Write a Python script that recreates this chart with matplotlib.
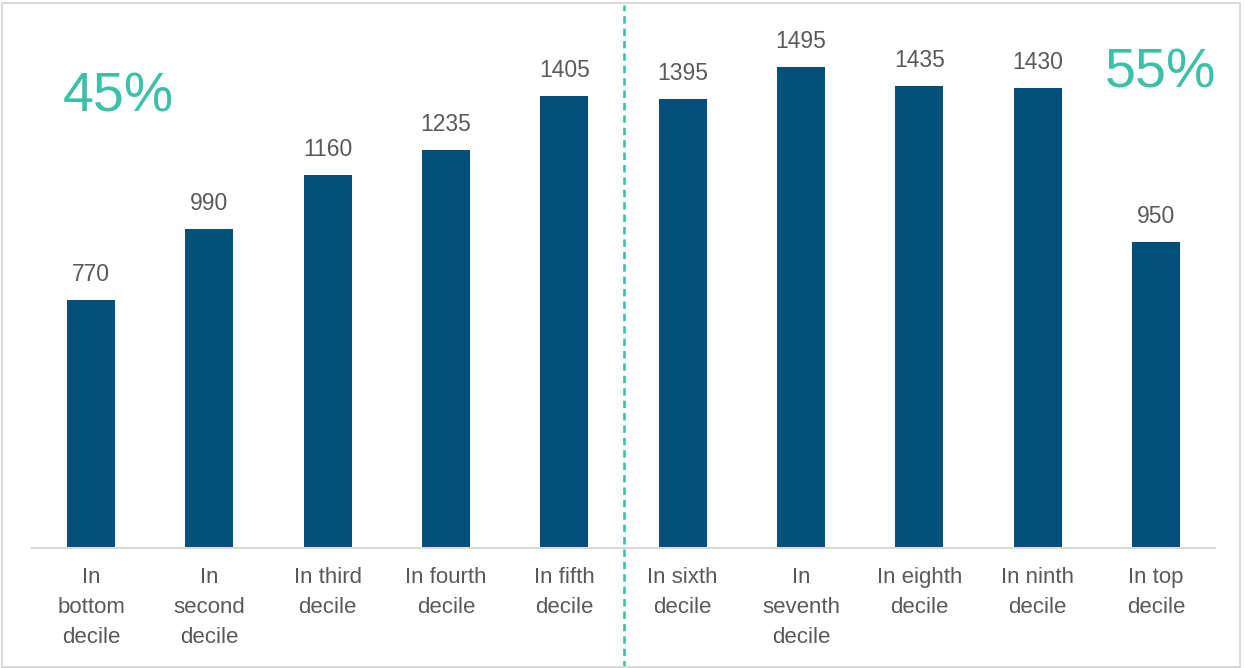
import matplotlib.pyplot as plt
from matplotlib.patches import Rectangle

# deciles and values
labels = ["In\nbottom\ndecile", "In\nsecond\ndecile", "In third\ndecile",
          "In fourth\ndecile", "In fifth\ndecile", "In sixth\ndecile",
          "In\nseventh\ndecile", "In eighth\ndecile", "In ninth\ndecile",
          "In top\ndecile"]
values = [770, 990, 1160, 1235, 1405, 1395, 1495, 1435, 1430, 950]
left_share = "45%"
right_share = "55%"

bar_col = "#00507A"
teal = "#3CC1A8"
grey = "#595959"

plt.rcParams['font.family'] = ['Liberation Sans', 'DejaVu Sans']

fig = plt.figure(figsize=(12.44, 6.68), dpi=100)
ax = fig.add_axes([32/1244, 120/668, 1183/1244, 538/668])

x = range(len(values))
bars = ax.bar(x, values, width=0.405, color=bar_col, zorder=2)
for b, v in zip(bars, values):
    ax.annotate(str(v), (b.get_x() + b.get_width()/2, v), xytext=(0, 10),
                textcoords="offset points", ha="center", va="bottom",
                fontsize=16.5, color=grey)

ax.set_xlim(-0.5, 9.5)
ax.set_ylim(0, 1671)
ax.set_yticks([])
ax.set_xticks(list(x))
ax.set_xticklabels(labels, fontsize=16, color=grey, linespacing=1.55)
ax.tick_params(axis="x", length=0, pad=14)
for s in ["top", "right", "left"]:
    ax.spines[s].set_visible(False)
ax.spines["bottom"].set_color("#D9D9D9")
ax.spines["bottom"].set_linewidth(1.5)

# split between lower and upper half
ax.axvline(4.5, ymin=-0.223, ymax=1.009, clip_on=False, color=teal,
           lw=1.9, dashes=(2.8, 1.9))

ax.text(0.073, 0.838, left_share, transform=ax.transAxes, ha="center",
        va="center", fontsize=40, color=teal)
ax.text(9.04, 0.882, right_share, transform=ax.get_xaxis_transform(),
        ha="center", va="center", fontsize=40, color=teal)

fig.add_artist(Rectangle((0.002, 0.002), 0.995, 0.993, transform=fig.transFigure,
                         fill=False, edgecolor="#D9D9D9", lw=1.5))

fig.savefig("out.png", dpi=100)
